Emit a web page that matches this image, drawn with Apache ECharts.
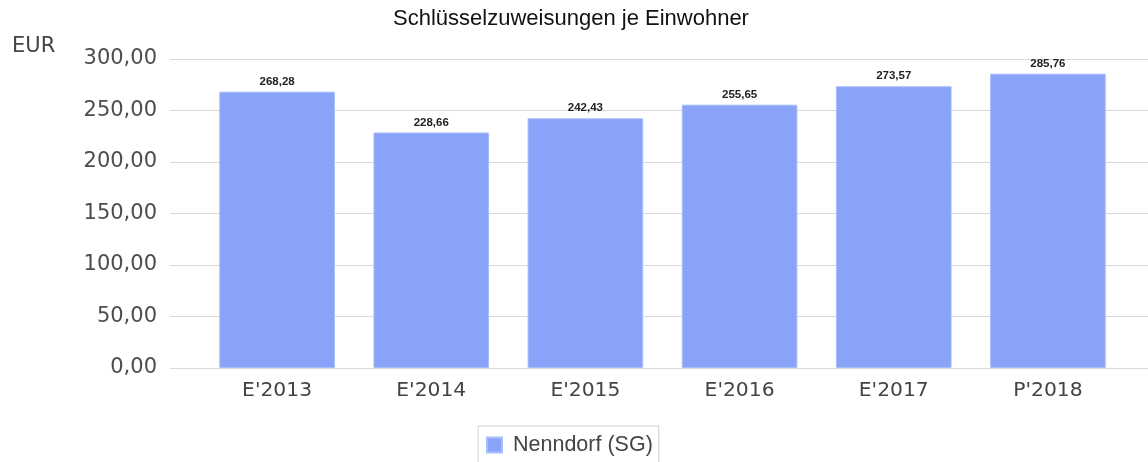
<!DOCTYPE html>
<html>
<head>
<meta charset="utf-8">
<script src="https://cdn.jsdelivr.net/npm/echarts@6/dist/echarts.min.js"></script>
<style>
  html, body { margin: 0; padding: 0; background: #fff; }
  #chart { width: 1148px; height: 462px; }
</style>
</head>
<body>
<div id="chart"></div>
<script>
const categories = ["E'2013", "E'2014", "E'2015", "E'2016", "E'2017", "P'2018"];
const values = [268.28, 228.66, 242.43, 255.65, 273.57, 285.76];
const seriesName = "Nenndorf (SG)";

const fmt = (v) => v.toFixed(2).replace(".", ",");

const chart = echarts.init(document.getElementById("chart"));
const option = {
  animation: false,
  textStyle: { fontFamily: "DejaVu Sans" },
  title: [
    {
      text: "Schlüsselzuweisungen je Einwohner",
      left: 566,
      top: 3,
      textAlign: "center",
      textStyle: { fontFamily: "Liberation Sans", fontSize: 22, fontWeight: "normal", color: "#111" },
    },
    {
      text: "EUR",
      left: 7,
      top: 31,
      textStyle: { fontSize: 21, fontWeight: "normal", color: "#444" },
    },
  ],
  legend: {
    top: 426,
    left: 478,
    data: [seriesName],
    icon: "rect",
    itemWidth: 15,
    itemHeight: 15,
    padding: [8, 6, 12, 8],
    borderColor: "#d0d0d0",
    borderWidth: 1,
    textStyle: {
      fontFamily: "Liberation Sans",
      fontSize: 21.5,
      color: "#444",
      padding: [0, 0, 0, 6],
    },
  },
  grid: [
    // background grid for split lines (wider than category area)
    { left: 170, right: 0, top: 59, bottom: 94 },
    { left: 200, right: 23, top: 59, bottom: 94 },
  ],
  xAxis: [
    { type: "value", gridIndex: 0, show: false },
    {
      type: "category",
      gridIndex: 1,
      data: categories,
      axisLine: { show: false },
      axisTick: { show: false },
      axisLabel: { fontSize: 20.3, color: "#444", margin: 13 },
    },
  ],
  yAxis: [
    {
      type: "value",
      gridIndex: 0,
      min: 0,
      max: 300,
      interval: 50,
      axisLine: { show: false },
      axisTick: { show: false },
      axisLabel: { fontSize: 21, color: "#4d4d4d", margin: 13, padding: [4, 0, 0, 0], formatter: fmt },
      splitLine: { lineStyle: { color: "#d9d9d9", width: 1 } },
    },
    {
      type: "value",
      gridIndex: 1,
      min: 0,
      max: 300,
      interval: 50,
      show: false,
      splitLine: { show: false },
    },
  ],
  series: [
    {
      name: seriesName,
      type: "bar",
      xAxisIndex: 1,
      yAxisIndex: 1,
      data: values,
      barWidth: "75%",
      itemStyle: { color: "#89a3f9", borderColor: "#a9bdfb", borderWidth: 1 },
      label: {
        show: true,
        position: "top",
        distance: 4,
        fontFamily: "Liberation Sans",
        fontSize: 11.5,
        fontWeight: "bold",
        color: "#222",
        formatter: (p) => fmt(p.value),
      },
    },
  ],
};
option && chart.setOption(option);
</script>
</body>
</html>
